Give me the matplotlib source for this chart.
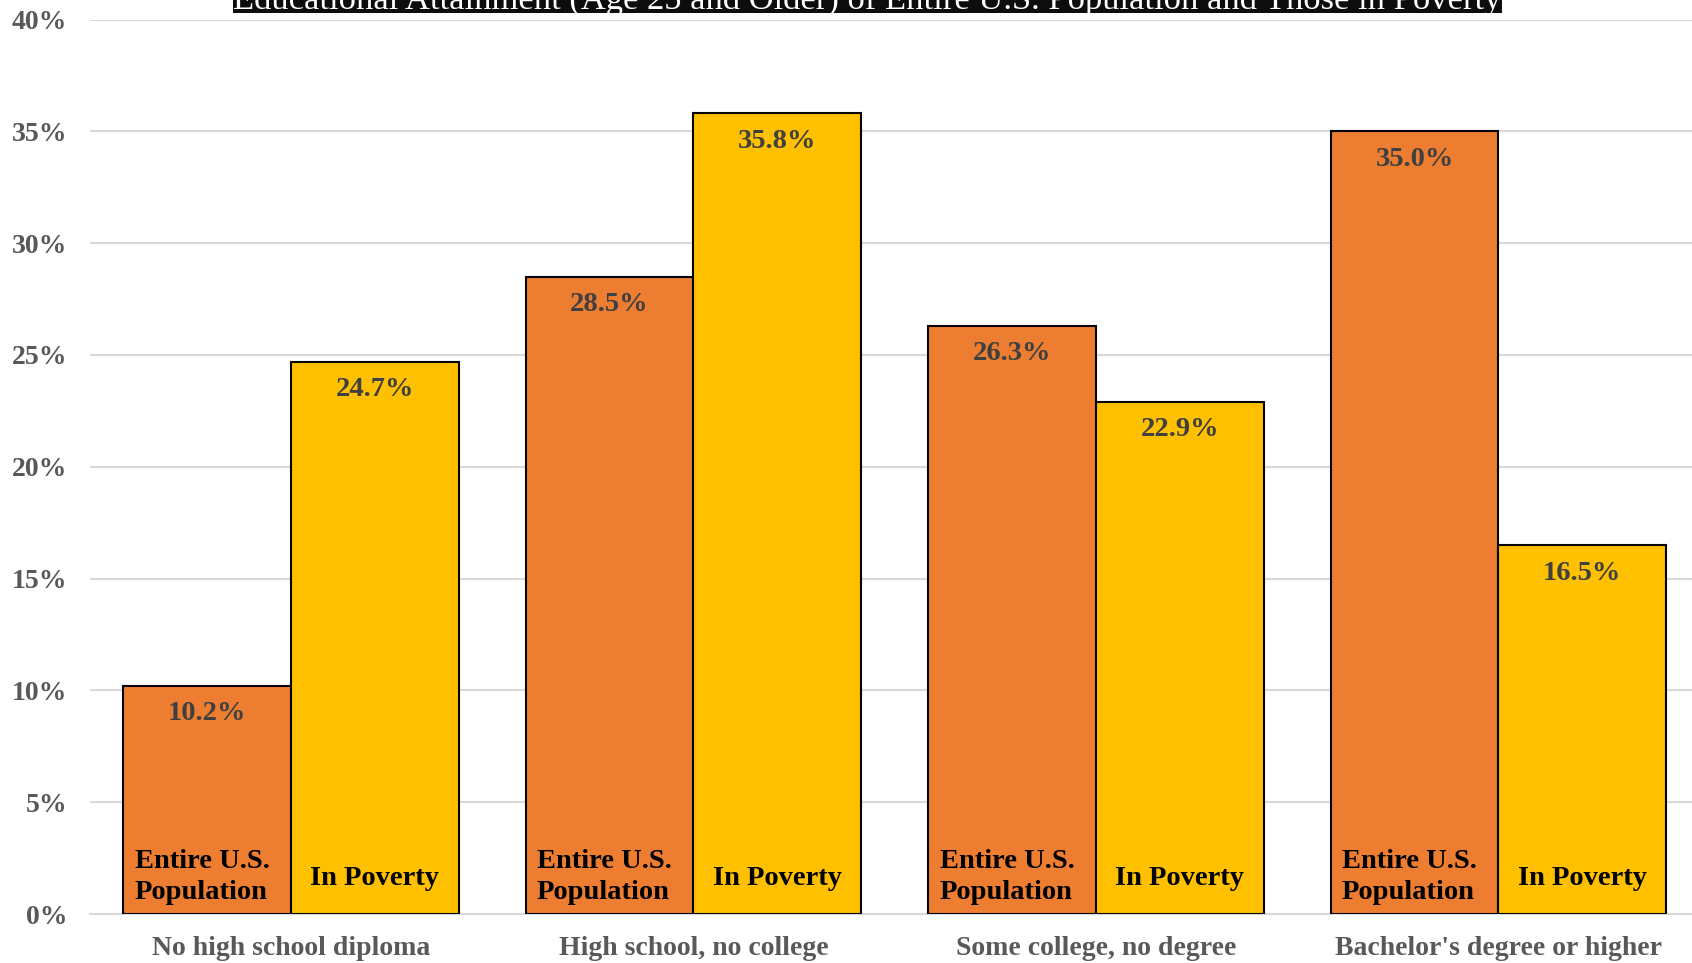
import matplotlib
matplotlib.use("Agg")
import matplotlib.pyplot as plt
from matplotlib.patches import Rectangle
import numpy as np

categories = ["No high school diploma", "High school, no college",
              "Some college, no degree", "Bachelor's degree or higher"]
series_names = ["Entire U.S.\nPopulation", "In Poverty"]
entire_us = [10.2, 28.5, 26.3, 35.0]
in_poverty = [24.7, 35.8, 22.9, 16.5]
yticks = [0, 5, 10, 15, 20, 25, 30, 35, 40]
title = "Educational Attainment (Age 25 and Older) of Entire U.S. Population and Those in Poverty"

colors = ["#ED7D31", "#FFC000"]
plt.rcParams['font.family'] = ['Liberation Serif', 'DejaVu Serif']

W, H = 1692, 963
fig = plt.figure(figsize=(W / 100, H / 100), dpi=100)
left_px, right_px = 89.6, 1699.6
bottom_px, top_px = 914, 19.5
ax = fig.add_axes([left_px / W, (H - bottom_px) / H,
                   (right_px - left_px) / W, (bottom_px - top_px) / H])

x = np.arange(len(categories))
bw = 0.4167
series = [entire_us, in_poverty]
name_offsets = [(-5, 37), (0, 36)]
for i, vals in enumerate(series):
    pos = x + (i - 0.5) * bw
    ax.bar(pos, vals, width=bw, color=colors[i], edgecolor="black",
           linewidth=1.5, zorder=3)
    for p, v in zip(pos, vals):
        ax.annotate(f"{v:.1f}%", (p, v), xytext=(0, -28), textcoords="offset pixels",
                    ha="center", va="center", fontsize=20.5, fontweight="bold",
                    color="#404040", zorder=4)
        ax.annotate(series_names[i], (p, 0), xytext=name_offsets[i], textcoords="offset pixels",
                    ha="center", va="center", fontsize=20.5, fontweight="bold",
                    color="black", multialignment="left", linespacing=1.3, zorder=4)

ax.set_xlim(-0.5, len(categories) - 0.5)
ax.set_ylim(0, 40)
ax.set_yticks(yticks)
ax.set_yticklabels([f"{t}%" for t in yticks])
ax.set_xticks(x)
ax.set_xticklabels(categories)
ax.grid(axis="y", color="#D9D9D9", linewidth=1.5, zorder=0)
for s in ["top", "right", "left"]:
    ax.spines[s].set_visible(False)
ax.spines["bottom"].set_color("#D9D9D9")
ax.spines["bottom"].set_linewidth(1.5)
ax.tick_params(axis="both", length=0, labelsize=20, labelcolor="#595959")
ax.tick_params(axis="y", pad=16)
ax.tick_params(axis="x", pad=15.5)
for lbl in ax.get_xticklabels() + ax.get_yticklabels():
    lbl.set_fontweight("bold")

# title box (partly cut off at the top, as in the reference)
box_l, box_r, box_b = 233, 1502, 13
fig.patches.append(Rectangle((box_l / W, (H - box_b) / H), (box_r - box_l) / W, 0.05,
                             transform=fig.transFigure, facecolor="#0D0D0D",
                             edgecolor="none", zorder=5))
fig.text((box_l + box_r) / 2 / W, (H - 8.5) / H, title, ha="center", va="baseline",
         fontsize=24.8, color="white", zorder=6)

fig.savefig("out.png", dpi=100)
